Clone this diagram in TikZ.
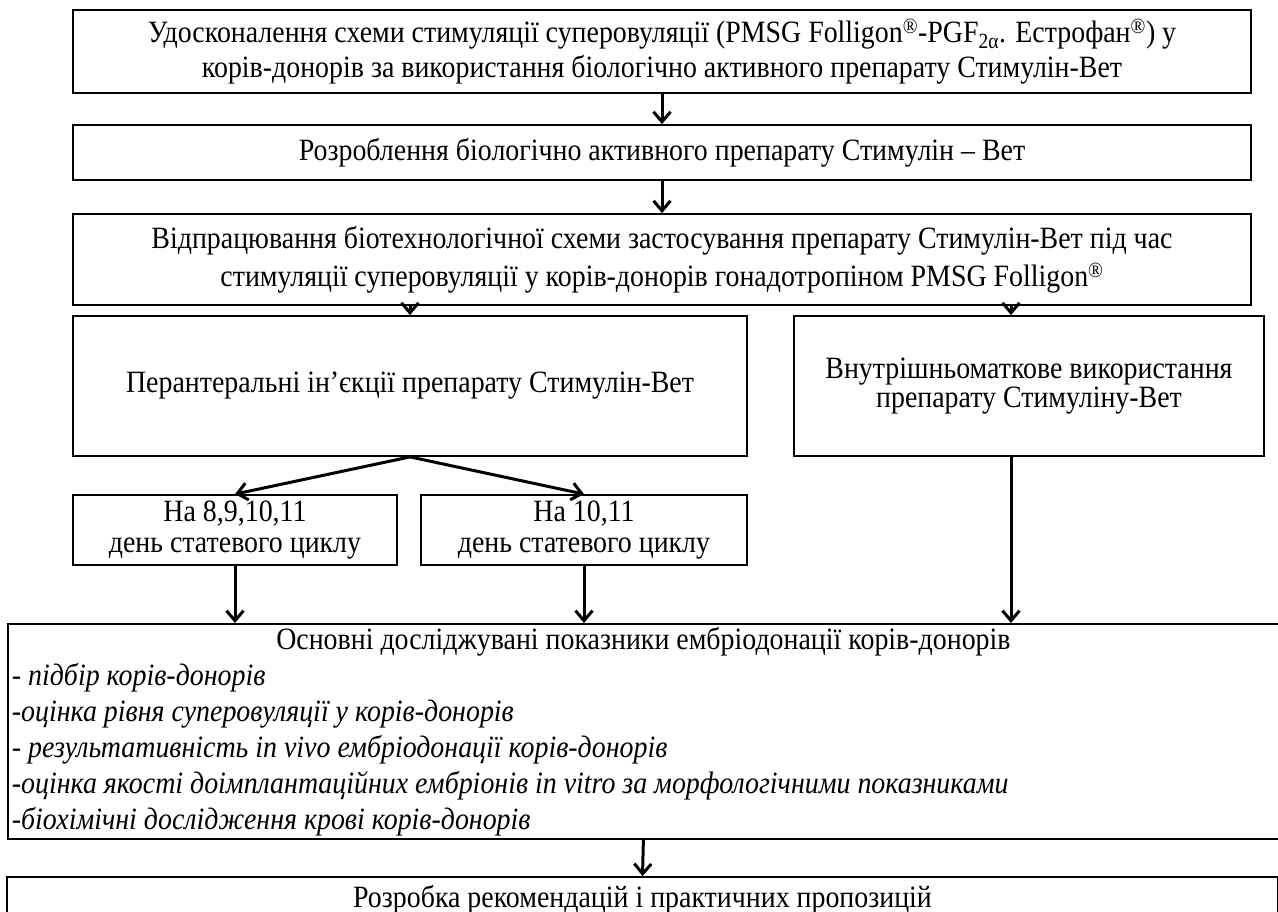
\documentclass[tikz,border=0pt]{standalone}
\usepackage{fontspec}
\setmainfont{Liberation Serif}[FakeStretch=0.9]
\usetikzlibrary{arrows.meta}
\tikzstyle{box} = [draw, line width=1.8pt, inner sep=0pt, align=center, font=\fontsize{31}{35}\selectfont]
\tikzstyle{arrow} = [draw, line width=3pt, -{Straight Barb[length=10pt, width=17pt]}]

\begin{document}
\begin{tikzpicture}[x=1pt, y=-1pt]
\useasboundingbox (0,0) rectangle (1278,912);
\fill [white] (0,0) rectangle (1278,912);

\node [box, minimum width=1178pt, minimum height=83pt] at (662, 51.5) (aim) {Удосконалення схеми стимуляції суперовуляції (PMSG Folligon\textsuperscript{®}-PGF\textsubscript{2α}. Естрофан\textsuperscript{®}) у\\корів-донорів за використання біологічно активного препарату Стимулін-Вет};

\node [box, minimum width=1178pt, minimum height=55pt] at (662, 152.5) (devel) {Розроблення біологічно активного препарату Стимулін – Вет};

\node [box, minimum width=1178pt, minimum height=91pt, font=\fontsize{31}{38}\selectfont] at (662, 259.5) (scheme) {Відпрацювання біотехнологічної схеми застосування препарату Стимулін-Вет під час\\стимуляції суперовуляції у корів-донорів гонадотропіном PMSG Folligon\textsuperscript{®}};

\node [box, minimum width=674pt, minimum height=140pt] at (410, 386) (perant) {Перантеральні ін’єкції препарату Стимулін-Вет};

\node [box, minimum width=470pt, minimum height=140pt, font=\fontsize{31}{29}\selectfont] at (1029, 386) (vnutr) {Внутрішньоматкове використання\\препарату Стимуліну-Вет};

\node [box, minimum width=324pt, minimum height=70pt, font=\fontsize{31}{31}\selectfont] at (235, 530) (day8) {На 8,9,10,11\\день статевого циклу};
\node [box, minimum width=326pt, minimum height=70pt, font=\fontsize{31}{31}\selectfont] at (584, 530) (day10) {На 10,11\\день статевого циклу};

% indicators
\node [box, anchor=north west, minimum height=215pt, text width=1263pt, inner xsep=4pt, align=left, font=\fontsize{31}{36}\selectfont] at (7, 623) (basic) {\spaceskip=0pt \xspaceskip=0pt
\makebox[1263pt]{Основні досліджувані показники ембріодонації корів-донорів}\\
\textit{- підбір корів-донорів}\\
\textit{-оцінка рівня суперовуляції у корів-донорів}\\
\textit{- результативність in vivo ембріодонації корів-донорів}\\
\textit{-оцінка якості доімплантаційних ембріонів in vitro за морфологічними показниками}\\
\textit{-біохімічні дослідження крові корів-донорів}};

\node [box, minimum width=1271pt, minimum height=46pt] at (642.5, 900) (advice) {Розробка рекомендацій і практичних пропозицій};

\coordinate (vtop) at ([xshift=-18pt]vnutr.north);
\coordinate (vbot) at ([xshift=-18pt]vnutr.south);

\path [arrow] (aim) to (devel);
\path [arrow] (devel) to (scheme);
\path [arrow] (scheme.south -| perant.north) to (perant.north);
\path [arrow] (vtop |- scheme.south) to (vtop);
\path [arrow] (perant.south) to (day8.north);
\path [arrow] (perant.south) to (day10.north);
\path [arrow] (day8.south) to (day8.south |- basic.north);
\path [arrow] (day10.south) to (day10.south |- basic.north);
\path [arrow] (vbot) to (vbot |- basic.north);
\path [arrow] (basic.south) to (advice.north);
\end{tikzpicture}
\end{document}
